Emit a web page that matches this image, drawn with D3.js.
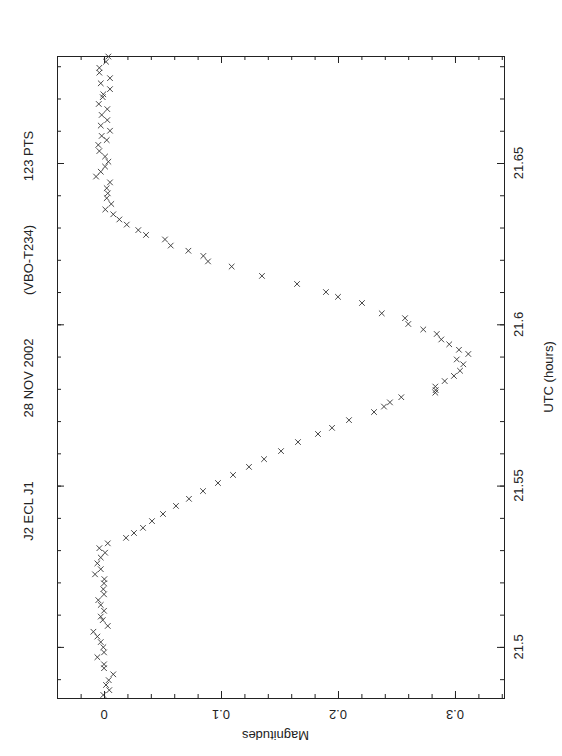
<!DOCTYPE html>
<html><head><meta charset="utf-8">
<script src="https://cdn.jsdelivr.net/npm/d3@7"></script>
<style>
body{margin:0;background:#fff}
svg{display:block;background:#fff}
text{font-family:"Liberation Sans",Arial,sans-serif;font-size:13px;fill:#222}
</style>
</head><body>
<svg id="c" width="562" height="756"></svg>
<script>
// ---- data (UTC hours, differential magnitudes) ----
const utcHours = [
21.6830,21.6814,21.6795,21.6780,21.6763,21.6747,21.6729,21.6713,21.6704,21.6683,
21.6667,21.6649,21.6633,21.6616,21.6600,21.6584,21.6571,21.6556,21.6537,21.6520,
21.6504,21.6489,21.6473,21.6458,21.6440,21.6422,21.6406,21.6391,21.6373,21.6356,
21.6341,21.6325,21.6309,21.6292,21.6277,21.6263,21.6244,21.6228,21.6212,21.6195,
21.6179,21.6150,21.6125,21.6100,21.6085,21.6066,21.6034,21.6019,21.6001,21.5984,
21.5970,21.5953,21.5938,21.5921,21.5908,21.5891,21.5876,21.5856,21.5840,21.5824,
21.5807,21.5796,21.5788,21.5774,21.5758,21.5745,21.5728,21.5703,21.5679,21.5660,
21.5635,21.5607,21.5582,21.5558,21.5533,21.5508,21.5483,21.5459,21.5437,21.5412,
21.5390,21.5369,21.5353,21.5338,21.5321,21.5306,21.5292,21.5277,21.5259,21.5241,
21.5225,21.5210,21.5197,21.5179,21.5163,21.5145,21.5130,21.5112,21.5094,21.5083,
21.5065,21.5047,21.5032,21.5015,21.4999,21.4983,21.4968,21.4946,21.4934,21.4915,
21.4897,21.4882,21.4866,21.4851
];
const magnitudes = [
0.0037,0.0017,-0.0040,-0.0040,0.0051,-0.0028,0.0051,-0.0006,-0.0011,-0.0045,
0.0028,-0.0020,0.0028,-0.0028,0.0051,-0.0020,0.0023,-0.0049,-0.0040,0.0009,
0.0037,0.0009,-0.0028,-0.0068,0.0051,0.0023,0.0032,0.0023,0.0062,0.0011,
0.0079,0.0131,0.0194,0.0293,0.0359,0.0521,0.0570,0.0721,0.0849,0.0889,
0.1091,0.1350,0.1650,0.1897,0.2000,0.2205,0.2374,0.2573,0.2601,0.2729,
0.2844,0.2883,0.2951,0.3034,0.3114,0.3015,0.3071,0.3043,0.2991,0.2912,
0.2832,0.2835,0.2832,0.2541,0.2444,0.2393,0.2308,0.2094,0.1949,0.1829,
0.1658,0.1513,0.1368,0.1239,0.1103,0.0974,0.0846,0.0726,0.0615,0.0504,
0.0410,0.0333,0.0256,0.0188,0.0032,-0.0040,0.0009,-0.0028,-0.0057,-0.0028,
-0.0077,0.0003,0.0000,-0.0006,0.0000,-0.0049,-0.0028,0.0000,-0.0028,-0.0011,
0.0032,-0.0091,-0.0057,-0.0028,-0.0006,0.0000,-0.0057,0.0000,0.0000,0.0079,
0.0040,0.0017,0.0045,-0.0006
];
const utcTicks = [21.5, 21.55, 21.6, 21.65];
const utcTickLabels = ["21.5", "21.55", "21.6", "21.65"];
const magTicks = [0, 0.1, 0.2, 0.3];
const magTickLabels = ["0", "0.1", "0.2", "0.3"];
const utcDomain = [21.48416, 21.68317];
const magDomain = [-0.0402, 0.3419];
const titleParts = ["J2 ECL J1", "28 NOV 2002", "(VBO-T234)", "123 PTS"];
const xLabel = "UTC (hours)";
const yLabel = "Magnitudes";

// ---- layout (page is a PGPLOT plot rotated by -90 degrees) ----
const F = {left: 57, right: 504, top: 56, bottom: 698};
const svg = d3.select("#c");
const t = d3.scaleLinear().domain(utcDomain).range([F.bottom, F.top]);   // vertical
const m = d3.scaleLinear().domain(magDomain).range([F.left, F.right]);   // horizontal

const utcMinor = d3.range(2149, 2169).map(v => v / 100);
const magMinor = d3.range(-2, 18).map(v => v / 50);

function styleAxis(g) {
  g.select(".domain").remove();
  g.selectAll("line").attr("stroke", "#222").attr("stroke-width", 1);
  g.selectAll("text").remove();
}

// inward ticks on all four sides
[[d3.axisRight, F.left], [d3.axisLeft, F.right]].forEach(([ax, pos]) => {
  svg.append("g").attr("transform", `translate(${pos},0)`)
    .call(ax(t).tickValues(utcMinor).tickSize(4)).call(styleAxis);
  svg.append("g").attr("transform", `translate(${pos},0)`)
    .call(ax(t).tickValues(utcTicks).tickSize(7)).call(styleAxis);
});
[[d3.axisBottom, F.top], [d3.axisTop, F.bottom]].forEach(([ax, pos]) => {
  svg.append("g").attr("transform", `translate(0,${pos})`)
    .call(ax(m).tickValues(magMinor.filter(v => v > magDomain[0] + 0.001)).tickSize(4)).call(styleAxis);
  svg.append("g").attr("transform", `translate(0,${pos})`)
    .call(ax(m).tickValues(magTicks).tickSize(7)).call(styleAxis);
});

// frame
svg.append("rect")
  .attr("x", F.left + 0.5).attr("y", F.top + 0.5)
  .attr("width", F.right - F.left).attr("height", F.bottom - F.top)
  .attr("fill", "none").attr("stroke", "#222").attr("stroke-width", 1);

// tick labels (rotated like the source page)
svg.append("g").selectAll("text").data(utcTicks).join("text")
  .attr("transform", (d) => `translate(${F.right + 14},${t(d)}) rotate(-90)`)
  .attr("text-anchor", "middle").attr("dy", "0.35em")
  .text((d, i) => utcTickLabels[i]);
svg.append("g").selectAll("text").data(magTicks).join("text")
  .attr("transform", (d) => `translate(${m(d)},${F.bottom + 17}) rotate(180)`)
  .attr("text-anchor", "middle").attr("dy", "0.35em")
  .text((d, i) => magTickLabels[i]);

// axis titles
svg.append("text")
  .attr("transform", `translate(${F.right + 44},${(F.top + F.bottom) / 2}) rotate(-90)`)
  .attr("text-anchor", "middle").attr("dy", "0.35em").text(xLabel);
svg.append("text")
  .attr("transform", `translate(${(F.left + F.right) / 2 - 5},${F.bottom + 38}) rotate(180)`)
  .attr("text-anchor", "middle").attr("dy", "0.35em").text(yLabel);

// title pieces along the left margin
const titleCenters = [511, 378, 260, 156];
svg.append("g").selectAll("text").data(titleParts).join("text")
  .attr("transform", (d, i) => `translate(28,${titleCenters[i]}) rotate(-90)`)
  .attr("text-anchor", "middle").attr("dy", "0.35em")
  .text(d => d);

// data points as crosses
const pts = utcHours.map((u, i) => ({u, v: magnitudes[i]}));
const s = 2.8;
svg.append("g").selectAll("path").data(pts).join("path")
  .attr("d", d => {
    const cx = m(d.v), cy = t(d.u);
    return `M${cx - s},${cy - s}L${cx + s},${cy + s}M${cx - s},${cy + s}L${cx + s},${cy - s}`;
  })
  .attr("stroke", "#333").attr("stroke-width", 0.9).attr("fill", "none");
</script>
</body></html>
